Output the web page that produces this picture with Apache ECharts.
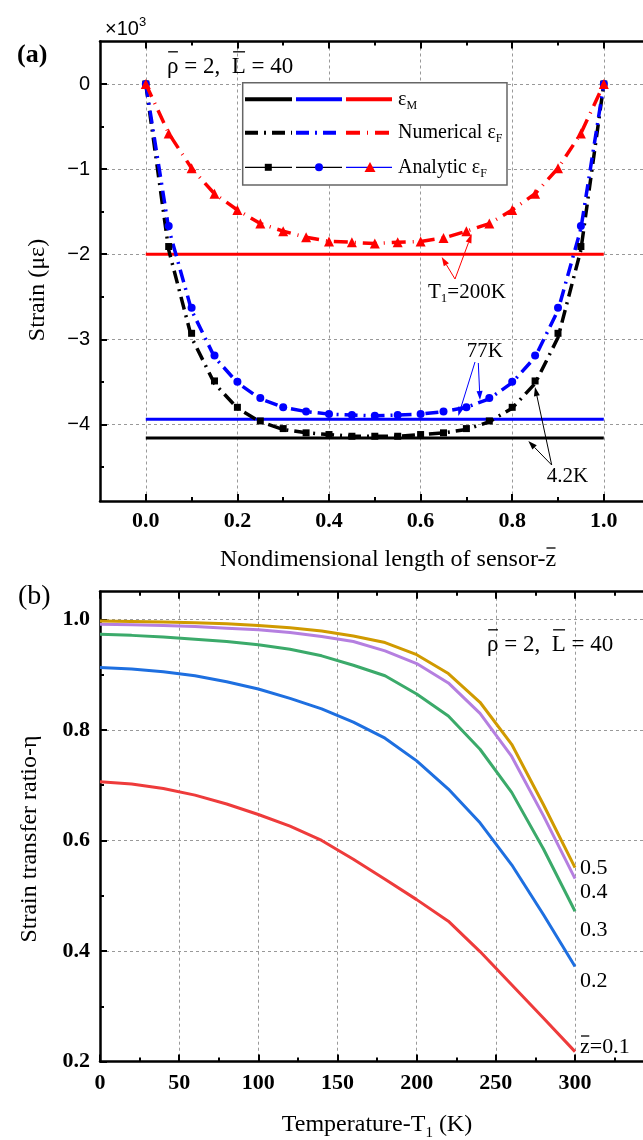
<!DOCTYPE html>
<html><head><meta charset="utf-8">
<script src="https://cdn.jsdelivr.net/npm/echarts@6/dist/echarts.min.js"></script>
<style>html,body{margin:0;padding:0;background:#fff}#c{width:643px;height:1140px}</style>
</head><body><div id="c"></div><script>
// ---------- Panel (a) data ----------
const zPos = [0, 0.05, 0.1, 0.15, 0.2, 0.25, 0.3, 0.35, 0.4, 0.45, 0.5, 0.55, 0.6, 0.65, 0.7, 0.75, 0.8, 0.85, 0.9, 0.95, 1.0];
const analytic42K  = [0, -1.91, -2.93, -3.49, -3.80, -3.96, -4.05, -4.10, -4.12, -4.14, -4.14, -4.14, -4.12, -4.10, -4.05, -3.96, -3.80, -3.49, -2.93, -1.91, 0];
const analytic77K  = [0, -1.67, -2.63, -3.19, -3.50, -3.69, -3.80, -3.85, -3.88, -3.89, -3.90, -3.89, -3.88, -3.85, -3.80, -3.69, -3.50, -3.19, -2.63, -1.67, 0];
const analytic200K = [0, -0.58, -0.99, -1.29, -1.48, -1.64, -1.73, -1.80, -1.85, -1.86, -1.875, -1.86, -1.85, -1.81, -1.73, -1.64, -1.48, -1.29, -0.99, -0.58, 0];
const numerical42K  = [0, -1.95, -2.98, -3.52, -3.81, -3.97, -4.06, -4.10, -4.12, -4.14, -4.14, -4.14, -4.12, -4.10, -4.06, -3.97, -3.81, -3.52, -2.98, -1.95, 0];
const numerical77K  = [0, -1.70, -2.66, -3.21, -3.51, -3.70, -3.80, -3.85, -3.88, -3.89, -3.90, -3.89, -3.88, -3.85, -3.80, -3.70, -3.51, -3.21, -2.66, -1.70, 0];
const numerical200K = [0, -0.58, -0.99, -1.29, -1.48, -1.64, -1.73, -1.80, -1.85, -1.86, -1.875, -1.86, -1.85, -1.81, -1.73, -1.64, -1.48, -1.29, -0.99, -0.58, 0];
const epsMSpan = [0, 1];
const epsMLevels = [-4.16, -3.94, -2.00]; // 4.2K, 77K, 200K
const xTicksA = [0, 0.2, 0.4, 0.6, 0.8, 1.0];
const xMinorA = [0.1, 0.3, 0.5, 0.7, 0.9];
const yTicksA = [0, -1, -2, -3, -4];
const yMinorA = [-0.5, -1.5, -2.5, -3.5, -4.5];

// ---------- Panel (b) data ----------
const tempK = [0, 20, 40, 60, 80, 100, 120, 140, 160, 180, 200, 220, 240, 260, 280, 300];
const eta05 = [0.997, 0.996, 0.995, 0.994, 0.992, 0.989, 0.985, 0.979, 0.970, 0.958, 0.936, 0.902, 0.850, 0.774, 0.665, 0.551];
const eta04 = [0.991, 0.990, 0.989, 0.987, 0.984, 0.981, 0.976, 0.969, 0.960, 0.943, 0.920, 0.885, 0.830, 0.752, 0.645, 0.531];
const eta03 = [0.973, 0.971, 0.968, 0.964, 0.960, 0.954, 0.946, 0.934, 0.917, 0.898, 0.865, 0.825, 0.765, 0.687, 0.585, 0.472];
const eta02 = [0.913, 0.910, 0.905, 0.898, 0.887, 0.874, 0.857, 0.838, 0.814, 0.785, 0.744, 0.693, 0.632, 0.556, 0.466, 0.372];
const eta01 = [0.706, 0.702, 0.694, 0.682, 0.666, 0.647, 0.626, 0.600, 0.566, 0.530, 0.493, 0.454, 0.399, 0.339, 0.279, 0.218];
const xTicksB = [0, 50, 100, 150, 200, 250, 300, 350];
const xLabelsB = [0, 50, 100, 150, 200, 250, 300];
const xMinorB = [25, 75, 125, 175, 225, 275, 325];
const yTicksB = [0.2, 0.4, 0.6, 0.8, 1.0];
const yMinorB = [0.3, 0.5, 0.7, 0.9];

const SERIF = '"Liberation Serif", "Times New Roman", serif';
const SANS = '"Liberation Sans", Arial, sans-serif';

function axis(extra) {
  const base = {
    type: 'value',
    axisLine: { show: true, onZero: false, lineStyle: { color: '#000', width: 2.5 } },
    axisTick: { show: false },
    axisLabel: { show: false },
    splitLine: { show: false },
    minorTick: { show: false },
    minorSplitLine: { show: false }
  };
  return Object.assign(base, extra);
}
function ticks(vals, len) {
  return { show: true, inside: true, length: len, lineStyle: { color: '#000', width: 2 }, customValues: vals };
}
const gridSplit = { show: true, lineStyle: { color: '#999', width: 1, type: [3, 3] } };

const xAxes = [
  axis({ gridIndex: 0, position: 'bottom', min: -0.1, max: 1.1, axisTick: ticks(xTicksA, 7), splitLine: gridSplit,
    axisLabel: { show: true, customValues: xTicksA, formatter: v => v.toFixed(1), fontFamily: SERIF, fontWeight: 'bold', fontSize: 22, color: '#000', margin: 9 } }),
  axis({ gridIndex: 0, position: 'bottom', min: -0.1, max: 1.1, axisLine: { show: false, onZero: false }, axisTick: ticks(xMinorA, 4) }),
  axis({ gridIndex: 0, position: 'top', min: -0.1, max: 1.1, axisTick: ticks(xTicksA, 7) }),
  axis({ gridIndex: 0, position: 'top', min: -0.1, max: 1.1, axisLine: { show: false, onZero: false }, axisTick: ticks(xMinorA, 4) }),
  axis({ gridIndex: 1, position: 'bottom', min: 0, max: 350, interval: 50, axisTick: ticks(xTicksB, 7), splitLine: gridSplit,
    axisLabel: { show: true, customValues: xLabelsB, fontFamily: SERIF, fontWeight: 'bold', fontSize: 22, color: '#000', margin: 11 } }),
  axis({ gridIndex: 1, position: 'bottom', min: 0, max: 350, axisLine: { show: false, onZero: false }, axisTick: ticks(xMinorB, 4) }),
  axis({ gridIndex: 1, position: 'top', min: 0, max: 350, axisTick: ticks(xTicksB, 7) }),
  axis({ gridIndex: 1, position: 'top', min: 0, max: 350, axisLine: { show: false, onZero: false }, axisTick: ticks(xMinorB, 4) })
];
const yAxes = [
  axis({ gridIndex: 0, position: 'left', min: -4.9, max: 0.5, axisTick: ticks(yTicksA, 7), splitLine: gridSplit,
    axisLabel: { show: true, customValues: yTicksA, formatter: v => v === 0 ? '0' : '\u2212' + Math.abs(v), fontFamily: SANS, fontSize: 20, color: '#000', margin: 10 } }),
  axis({ gridIndex: 0, position: 'left', min: -4.9, max: 0.5, axisLine: { show: false, onZero: false }, axisTick: ticks(yMinorA, 4) }),
  axis({ gridIndex: 1, position: 'left', min: 0.2, max: 1.05, interval: 0.2, axisTick: ticks(yTicksB, 7), splitLine: gridSplit,
    axisLabel: { show: true, customValues: yTicksB, formatter: v => v.toFixed(1), fontFamily: SERIF, fontWeight: 'bold', fontSize: 22, color: '#000', margin: 10 } }),
  axis({ gridIndex: 1, position: 'left', min: 0.2, max: 1.05, axisLine: { show: false, onZero: false }, axisTick: ticks(yMinorB, 4) })
];

const colA = ['#000000', '#0000FF', '#FF0000'];
const numDash = [[13, 6, 2, 6], [13, 6, 2, 6], [14, 7, 1, 7]];
const numData = [numerical42K, numerical77K, numerical200K];
const anaData = [analytic42K, analytic77K, analytic200K];
const anaSym = ['rect', 'circle', 'triangle'];
const anaSize = [7, 8, 10];

const series = [];
for (let k = 0; k < 3; k++) {
  series.push({ type: 'line', xAxisIndex: 0, yAxisIndex: 0, data: epsMSpan.map(z => [z, epsMLevels[k]]),
    symbol: 'none', lineStyle: { color: colA[k], width: 3 }, z: 2 });
  series.push({ type: 'line', xAxisIndex: 0, yAxisIndex: 0, data: zPos.map((z, i) => [z, numData[k][i]]),
    symbol: 'none', lineStyle: { color: colA[k], width: 3.5, type: numDash[k] }, z: 3 });
  series.push({ type: 'scatter', xAxisIndex: 0, yAxisIndex: 0, data: zPos.map((z, i) => [z, anaData[k][i]]),
    symbol: anaSym[k], symbolSize: anaSize[k], itemStyle: { color: colA[k], opacity: 1 }, z: 4 });
}
const etaSets = [eta01, eta02, eta03, eta04, eta05];
const colB = ['#EE3B3B', '#1E6FE0', '#3BAA6A', '#B57FE0', '#D09A00'];
etaSets.forEach((arr, k) => {
  series.push({ type: 'line', xAxisIndex: 4, yAxisIndex: 2, data: tempK.map((t, i) => [t, arr[i]]),
    symbol: 'none', lineStyle: { color: colB[k], width: 3 }, z: 3 + k });
});

// ---------- graphic helpers ----------
const mctx = document.createElement('canvas').getContext('2d');
function fontStr(size, weight, fam) { return (weight || 'normal') + ' ' + size + 'px ' + (fam || SERIF); }
function tw(t, size, weight, fam) { mctx.font = fontStr(size, weight, fam); return mctx.measureText(t).width; }
function txt(x, y, t, size, o) {
  o = o || {};
  return { type: 'text', x: x, y: y, rotation: o.rot || 0, z: 100,
    style: { text: t, fill: o.color || '#000', font: fontStr(size, o.weight, o.fam), align: o.align || 'left', verticalAlign: 'middle' } };
}
function line(x1, y1, x2, y2, color, w, dash) {
  return { type: 'line', z: 100, shape: { x1, y1, x2, y2 }, style: { stroke: color, lineWidth: w, lineDash: dash || null } };
}
// list entries: [text, kind] kind: 0 normal, 1 subscript, 2 overbar
function parts(x, y, list, size, o) {
  o = o || {};
  const out = [];
  const subSize = Math.round(size * 0.62);
  let total = 0;
  list.forEach(p => { total += p[1] === 1 ? tw(p[0], subSize) : tw(p[0], size); });
  let cx = o.center ? x - total / 2 : x;
  list.forEach(p => {
    if (p[1] === 1) { out.push(txt(cx, y + size * 0.32, p[0], subSize)); cx += tw(p[0], subSize); }
    else {
      const w = tw(p[0], size);
      out.push(txt(cx, y, p[0], size));
      if (p[1] === 2) out.push(line(cx + w * 0.1, y - size * (p[2] || 0.66), cx + w * 0.95, y - size * (p[2] || 0.66), '#000', 1.3));
      cx += w;
    }
  });
  return out;
}
function arrow(x1, y1, x2, y2, color) {
  const a = Math.atan2(y2 - y1, x2 - x1), L = 9, W = 3;
  const bx = x2 - L * Math.cos(a), by = y2 - L * Math.sin(a);
  return [
    line(x1, y1, bx, by, color, 1),
    { type: 'polygon', z: 100, shape: { points: [[x2, y2], [bx + W * Math.sin(a), by - W * Math.cos(a)], [bx - W * Math.sin(a), by + W * Math.cos(a)]] }, style: { fill: color } }
  ];
}

const G = [];
G.push(txt(17, 55, '(a)', 26, { weight: 'bold' }));
G.push(txt(18, 597, '(b)', 28));
G.push(txt(105, 29, '\u00d710', 20, { fam: SANS }));
G.push(txt(105 + tw('\u00d710', 20, 'normal', SANS), 22, '3', 13, { fam: SANS }));
const rhoL = [['\u03c1', 2, 0.66], [' = 2,  ', 0], ['L', 2, 0.66], [' = 40', 0]];
G.push(...parts(167, 67, rhoL, 23));
G.push(...parts(487, 645, rhoL, 23));
// legend box
G.push({ type: 'rect', z: 99, shape: { x: 242.7, y: 82.7, width: 264.3, height: 102.3 }, style: { fill: '#fff', stroke: '#666', lineWidth: 1.5 } });
const segs = [[245, 292], [296, 342], [346, 392]];
segs.forEach((s, k) => {
  G.push(line(s[0], 99.3, s[1], 99.3, colA[k], 4));
  G.push(line(s[0], 132.7, s[1], 132.7, colA[k], 4, numDash[k]));
});
G.push(line(245, 167.3, 292, 167.3, '#000', 1.2));
G.push({ type: 'rect', z: 101, shape: { x: 268.3 - 3.5, y: 167.3 - 3.5, width: 7, height: 7 }, style: { fill: '#000' } });
G.push(line(296, 167.3, 342, 167.3, '#000', 1.2));
G.push({ type: 'circle', z: 101, shape: { cx: 319, cy: 167.3, r: 4 }, style: { fill: '#0000FF' } });
G.push(line(346, 167.3, 392, 167.3, '#0000FF', 1.2));
G.push({ type: 'polygon', z: 101, shape: { points: [[370, 162], [375.5, 172], [364.5, 172]] }, style: { fill: '#FF0000' } });
G.push(...parts(398, 99.3, [['\u03b5', 0], ['M', 1]], 20));
G.push(...parts(398, 132.7, [['Numerical \u03b5', 0], ['F', 1]], 20));
G.push(...parts(398, 167.3, [['Analytic \u03b5', 0], ['F', 1]], 20));
// temperature annotations
G.push(...parts(428, 292, [['T', 0], ['1', 1], ['=200K', 0]], 21));
G.push(...arrow(455, 279, 441.7, 257, '#FF0000'));
G.push(...arrow(455, 279, 471.7, 234, '#FF0000'));
G.push(txt(466.7, 351.7, '77K', 21));
G.push(...arrow(475, 362, 458.3, 416, '#0000FF'));
G.push(...arrow(478.3, 363, 480, 400, '#0000FF'));
G.push(txt(546.7, 476.7, '4.2K', 21));
G.push(...arrow(551.7, 465, 528.3, 441, '#000'));
G.push(...arrow(551.7, 465, 535, 387, '#000'));
// axis titles
G.push(txt(38, 290, 'Strain (\u03bc\u03b5)', 24, { rot: Math.PI / 2, align: 'center' }));
G.push(...parts(388, 560, [['Nondimensional length of sensor-', 0], ['z', 2, 0.5]], 24, { center: true }));
G.push(txt(30, 839, 'Strain transfer ratio-\u03b7', 24, { rot: Math.PI / 2, align: 'center' }));
G.push(...parts(377, 1125, [['Temperature-T', 0], ['1', 1], [' (K)', 0]], 24, { center: true }));
// curve labels
G.push(txt(580, 868, '0.5', 22));
G.push(txt(580, 892, '0.4', 22));
G.push(txt(580, 930, '0.3', 22));
G.push(txt(580, 981, '0.2', 22));
G.push(...parts(580, 1047, [['z', 2, 0.5], ['=0.1', 0]], 22));

const chart = echarts.init(document.getElementById('c'), null, { renderer: 'canvas' });
chart.setOption({
  animation: false,
  backgroundColor: '#fff',
  grid: [
    { left: 100, top: 41.5, width: 549.6, height: 459.4, outerBoundsMode: 'none', containLabel: false },
    { left: 100, top: 591.7, width: 554.2, height: 469.9, outerBoundsMode: 'none', containLabel: false }
  ],
  xAxis: xAxes,
  yAxis: yAxes,
  series: series,
  graphic: { elements: G }
});
</script></body></html>
